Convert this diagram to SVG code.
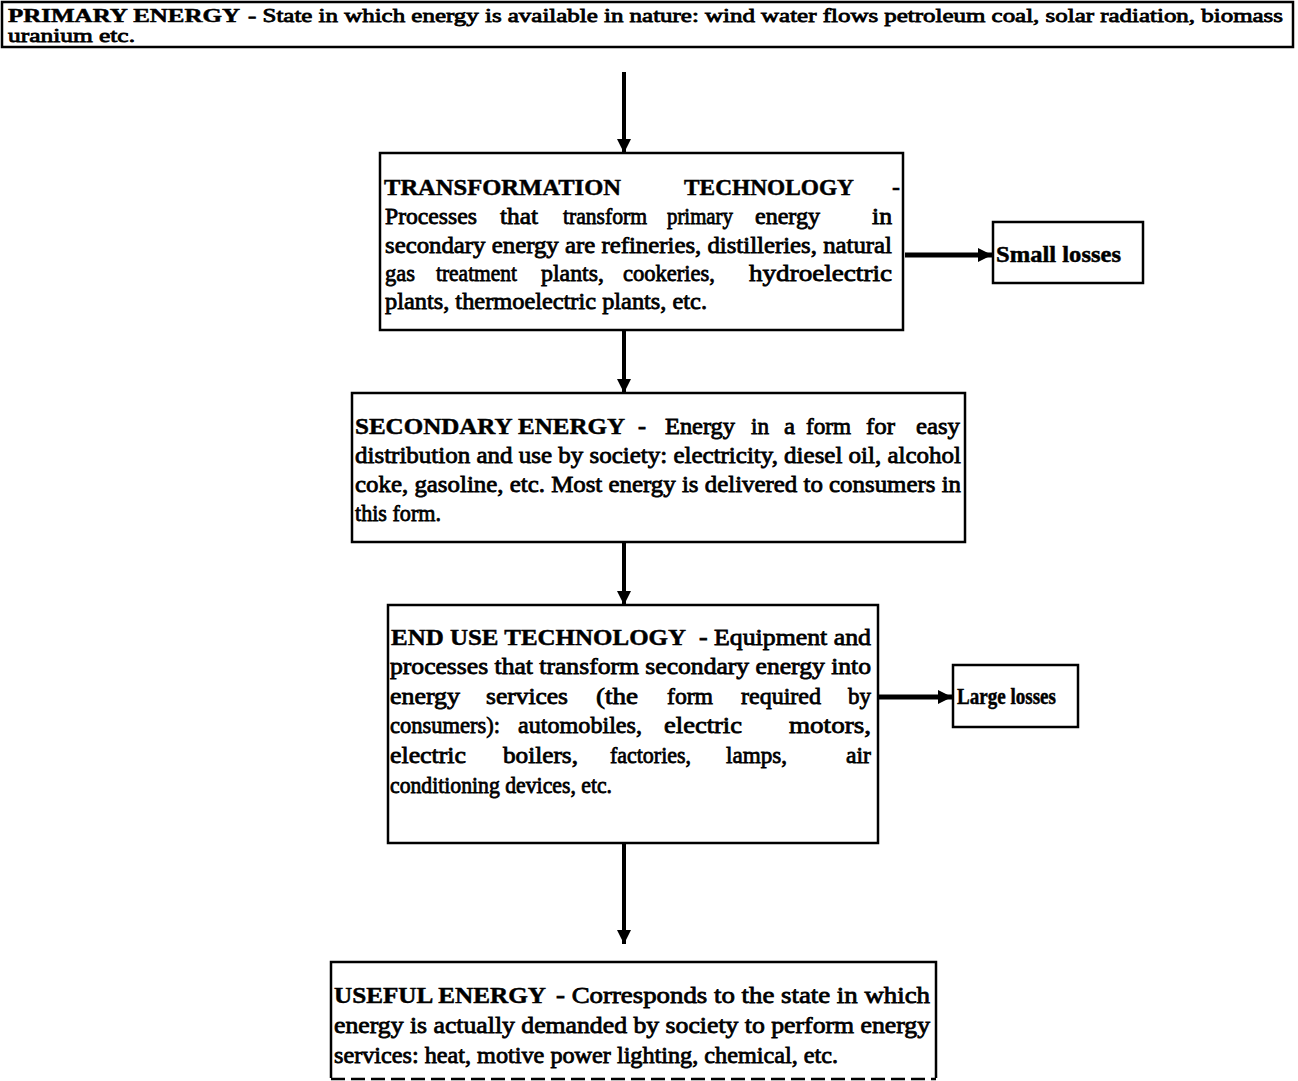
<svg xmlns="http://www.w3.org/2000/svg" width="1298" height="1081" viewBox="0 0 1298 1081">
<style>
text{font-family:"Liberation Serif","Times New Roman",serif;font-size:24px;fill:#000}
.h{font-weight:bold;stroke:#000;stroke-width:0.5}
.b{stroke:#000;stroke-width:0.8}
.t{font-size:19px}
.box{fill:#fff;stroke:#000;stroke-width:2.5}
.con{stroke:#000;fill:none}
</style>
<defs>
<marker id="ah" markerUnits="userSpaceOnUse" markerWidth="16" markerHeight="16" refX="14" refY="8" orient="auto">
<path d="M0,1 L14,8 L0,15 Z" fill="#000"/>
</marker>
</defs>
<rect width="1298" height="1081" fill="#fff"/>
<g id="connectors">
<line class="con" x1="624" y1="72" x2="624" y2="153" stroke-width="4" marker-end="url(#ah)"/>
<line class="con" x1="624" y1="330" x2="624" y2="393" stroke-width="4" marker-end="url(#ah)"/>
<line class="con" x1="624" y1="542" x2="624" y2="605" stroke-width="4" marker-end="url(#ah)"/>
<line class="con" x1="624" y1="843" x2="624" y2="944" stroke-width="4" marker-end="url(#ah)"/>
<line class="con" x1="905" y1="255" x2="992" y2="255" stroke-width="5" marker-end="url(#ah)"/>
<line class="con" x1="878" y1="697" x2="952" y2="697" stroke-width="5" marker-end="url(#ah)"/>
</g>
<g id="primary">
<rect class="box" x="2" y="2" width="1291" height="45"/>
<text class="h t" x="8" y="22" textLength="232" lengthAdjust="spacingAndGlyphs">PRIMARY ENERGY</text>
<text class="b t" x="248" y="22" textLength="1035" lengthAdjust="spacingAndGlyphs">- State in which energy is available in nature: wind water flows petroleum coal, solar radiation, biomass</text>
<text class="b t" x="8" y="42" textLength="127" lengthAdjust="spacingAndGlyphs">uranium etc.</text>
</g>
<g id="transformation">
<rect class="box" x="380" y="153" width="523" height="177"/>
<text class="h" x="384" y="195" textLength="237" lengthAdjust="spacingAndGlyphs">TRANSFORMATION</text>
<text class="h" x="684" y="195" textLength="170" lengthAdjust="spacingAndGlyphs">TECHNOLOGY</text>
<text class="h" x="892" y="195">-</text>
<text class="b" x="385" y="224" textLength="92" lengthAdjust="spacingAndGlyphs">Processes</text>
<text class="b" x="500" y="224" textLength="38" lengthAdjust="spacingAndGlyphs">that</text>
<text class="b" x="563" y="224" textLength="84" lengthAdjust="spacingAndGlyphs">transform</text>
<text class="b" x="667" y="224" textLength="66" lengthAdjust="spacingAndGlyphs">primary</text>
<text class="b" x="755" y="224" textLength="65" lengthAdjust="spacingAndGlyphs">energy</text>
<text class="b" x="872" y="224" textLength="20" lengthAdjust="spacingAndGlyphs">in</text>
<text class="b" x="385" y="253" textLength="507" lengthAdjust="spacingAndGlyphs">secondary energy are refineries, distilleries, natural</text>
<text class="b" x="385" y="281" textLength="30" lengthAdjust="spacingAndGlyphs">gas</text>
<text class="b" x="436" y="281" textLength="81" lengthAdjust="spacingAndGlyphs">treatment</text>
<text class="b" x="541" y="281" textLength="63" lengthAdjust="spacingAndGlyphs">plants,</text>
<text class="b" x="623" y="281" textLength="92" lengthAdjust="spacingAndGlyphs">cookeries,</text>
<text class="b" x="749" y="281" textLength="143" lengthAdjust="spacingAndGlyphs">hydroelectric</text>
<text class="b" x="385" y="309" textLength="322" lengthAdjust="spacingAndGlyphs">plants, thermoelectric plants, etc.</text>
</g>
<g id="small-losses">
<rect class="box" x="993" y="222" width="150" height="61"/>
<text class="h" x="996" y="262" textLength="125" lengthAdjust="spacingAndGlyphs">Small losses</text>
</g>
<g id="secondary">
<rect class="box" x="352" y="393" width="613" height="149"/>
<text class="h" x="355" y="434" textLength="270" lengthAdjust="spacingAndGlyphs">SECONDARY ENERGY</text>
<text class="b" x="638" y="434">-</text>
<text class="b" x="665" y="434" textLength="70" lengthAdjust="spacingAndGlyphs">Energy</text>
<text class="b" x="751" y="434" textLength="18" lengthAdjust="spacingAndGlyphs">in</text>
<text class="b" x="784" y="434" textLength="11" lengthAdjust="spacingAndGlyphs">a</text>
<text class="b" x="806" y="434" textLength="45" lengthAdjust="spacingAndGlyphs">form</text>
<text class="b" x="866" y="434" textLength="29" lengthAdjust="spacingAndGlyphs">for</text>
<text class="b" x="916" y="434" textLength="44" lengthAdjust="spacingAndGlyphs">easy</text>
<text class="b" x="355" y="463" textLength="606" lengthAdjust="spacingAndGlyphs">distribution and use by society: electricity, diesel oil, alcohol</text>
<text class="b" x="355" y="492" textLength="606" lengthAdjust="spacingAndGlyphs">coke, gasoline, etc.  Most energy is delivered to consumers in</text>
<text class="b" x="355" y="521" textLength="86" lengthAdjust="spacingAndGlyphs">this form.</text>
</g>
<g id="end-use">
<rect class="box" x="388" y="605" width="490" height="238"/>
<text class="h" x="391" y="645" textLength="295" lengthAdjust="spacingAndGlyphs">END USE TECHNOLOGY</text>
<text class="b" x="699" y="645" textLength="172" lengthAdjust="spacingAndGlyphs">- Equipment and</text>
<text class="b" x="390" y="674" textLength="481" lengthAdjust="spacingAndGlyphs">processes that transform secondary energy into</text>
<text class="b" x="390" y="704" textLength="70" lengthAdjust="spacingAndGlyphs">energy</text>
<text class="b" x="486" y="704" textLength="82" lengthAdjust="spacingAndGlyphs">services</text>
<text class="b" x="596" y="704" textLength="42" lengthAdjust="spacingAndGlyphs">(the</text>
<text class="b" x="667" y="704" textLength="46" lengthAdjust="spacingAndGlyphs">form</text>
<text class="b" x="741" y="704" textLength="80" lengthAdjust="spacingAndGlyphs">required</text>
<text class="b" x="848" y="704" textLength="23" lengthAdjust="spacingAndGlyphs">by</text>
<text class="b" x="390" y="733" textLength="110" lengthAdjust="spacingAndGlyphs">consumers):</text>
<text class="b" x="518" y="733" textLength="124" lengthAdjust="spacingAndGlyphs">automobiles,</text>
<text class="b" x="664" y="733" textLength="78" lengthAdjust="spacingAndGlyphs">electric</text>
<text class="b" x="789" y="733" textLength="82" lengthAdjust="spacingAndGlyphs">motors,</text>
<text class="b" x="390" y="763" textLength="76" lengthAdjust="spacingAndGlyphs">electric</text>
<text class="b" x="503" y="763" textLength="75" lengthAdjust="spacingAndGlyphs">boilers,</text>
<text class="b" x="610" y="763" textLength="81" lengthAdjust="spacingAndGlyphs">factories,</text>
<text class="b" x="726" y="763" textLength="61" lengthAdjust="spacingAndGlyphs">lamps,</text>
<text class="b" x="846" y="763" textLength="25" lengthAdjust="spacingAndGlyphs">air</text>
<text class="b" x="390" y="793" textLength="222" lengthAdjust="spacingAndGlyphs">conditioning devices, etc.</text>
</g>
<g id="large-losses">
<rect class="box" x="953" y="665" width="125" height="62"/>
<text class="h" x="957" y="704" textLength="99" lengthAdjust="spacingAndGlyphs">Large losses</text>
</g>
<g id="useful">
<path d="M331,1078 L331,962 L936,962 L936,1078" fill="#fff" stroke="#000" stroke-width="2.5"/>
<line x1="331" y1="1079" x2="936" y2="1079" stroke="#000" stroke-width="2.5" stroke-dasharray="14,6"/>
<text class="h" x="334" y="1003" textLength="212" lengthAdjust="spacingAndGlyphs">USEFUL ENERGY</text>
<text class="b" x="556" y="1003" textLength="374" lengthAdjust="spacingAndGlyphs">- Corresponds to the state in which</text>
<text class="b" x="334" y="1033" textLength="596" lengthAdjust="spacingAndGlyphs">energy is actually demanded by society to perform energy</text>
<text class="b" x="334" y="1063" textLength="504" lengthAdjust="spacingAndGlyphs">services: heat, motive power lighting, chemical, etc.</text>
</g>
</svg>
